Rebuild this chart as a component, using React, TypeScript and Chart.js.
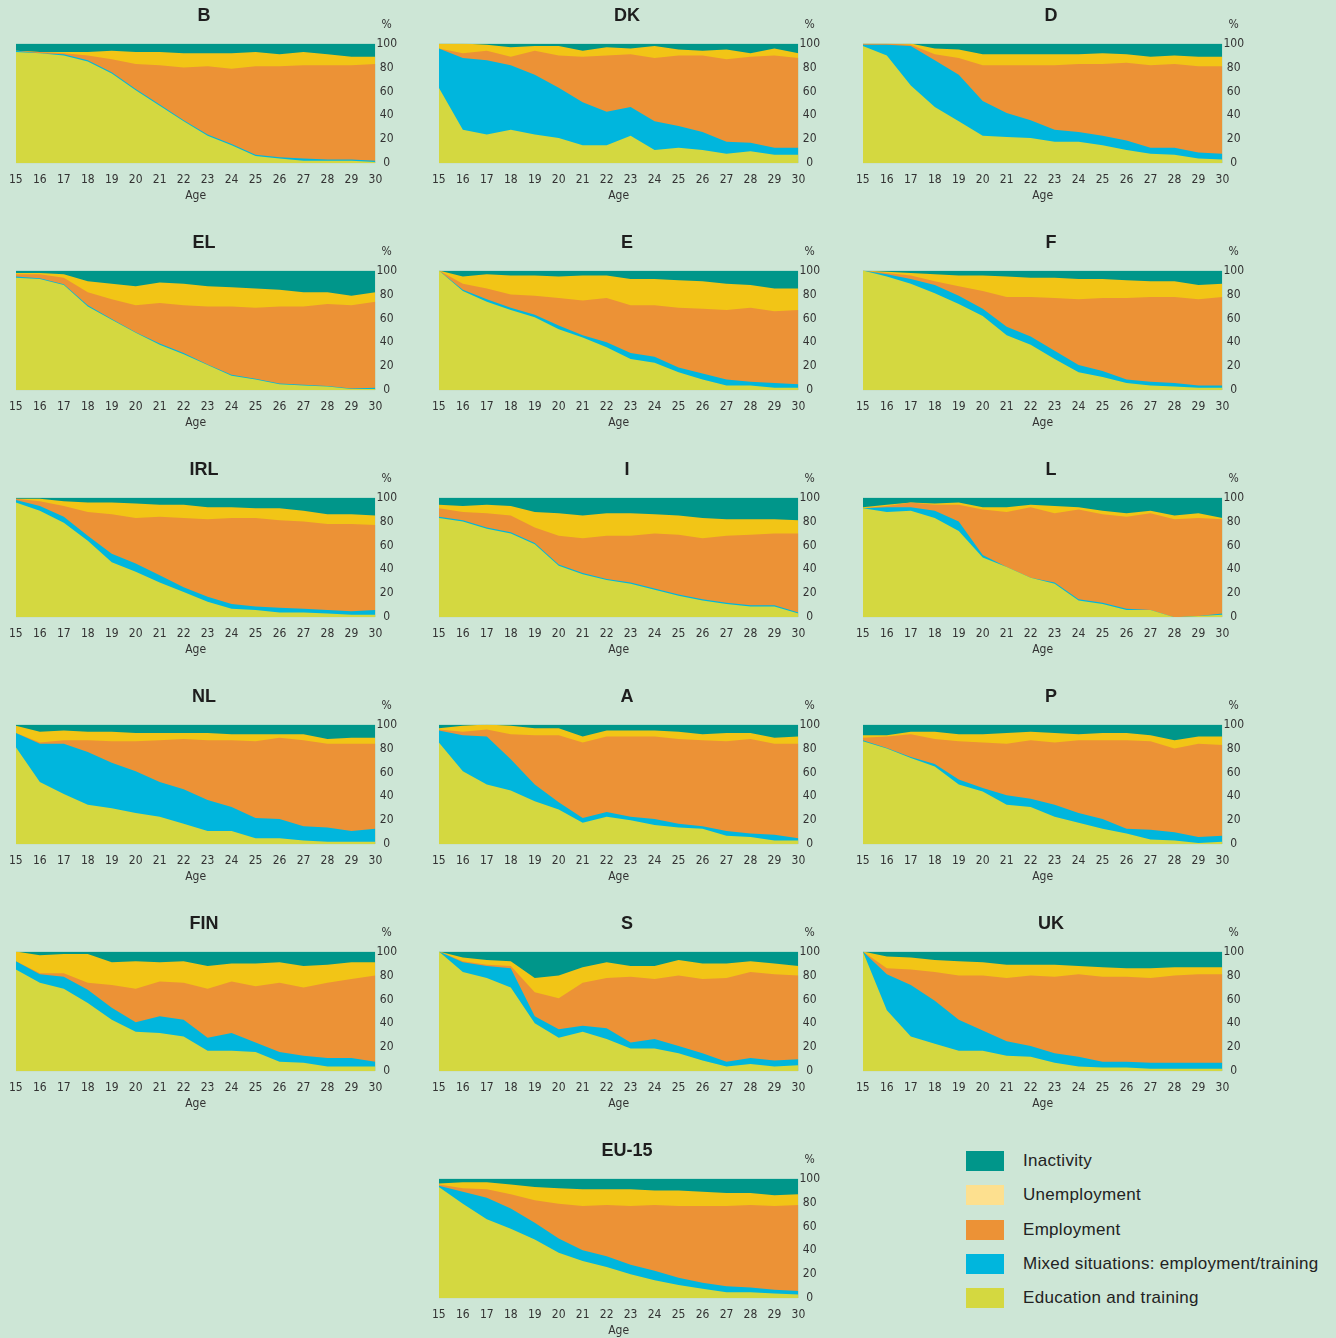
import React, { useEffect, useRef } from "react";
import { Chart, registerables } from "chart.js";
Chart.register(...registerables);

// ---------- data (cumulative boundaries in %, ages 15..30) ----------
const AGES = ["15","16","17","18","19","20","21","22","23","24","25","26","27","28","29","30"];
const TOTAL = [100,100,100,100,100,100,100,100,100,100,100,100,100,100,100,100];

// rows: [top of Education, top of Mixed, top of Employment, top of Unemployment]
const B = [
  [93,92,90,85,75,61,48,35,23,15,6,4,2,2,2,1],
  [94,92,91,86,76,62,49,36,24,16,7,5,4,3,3,2],
  [94,93,92,90,87,83,82,80,81,79,81,81,82,82,82,83],
  [94,93,93,93,94,93,93,92,92,92,93,91,93,91,89,89],
];
const DK = [
  [63,28,24,28,24,21,15,15,23,11,13,11,8,10,7,7],
  [96,88,86,82,74,63,51,43,47,35,31,26,18,17,13,13],
  [96,92,94,89,94,90,89,90,91,88,90,90,87,89,90,88],
  [100,100,99,97,98,98,94,97,96,98,95,94,95,92,96,92],
];
const D = [
  [98,90,65,47,35,23,22,21,18,18,15,11,8,7,4,3],
  [99,99,98,86,74,52,42,36,28,26,23,19,13,13,9,8],
  [100,100,99,91,88,82,82,82,82,83,83,84,82,83,81,81],
  [100,100,100,96,95,91,91,91,91,91,92,91,89,90,89,89],
];
const EL = [
  [94,93,88,70,59,48,38,30,21,12,9,5,4,3,1,1],
  [95,93.5,88.5,71,59.5,48.5,39,31,21.5,13,9.5,5.5,4.5,3.5,1.5,2],
  [97,97,94,82,76,71,73,71,70,70,69,70,70,72,71,74],
  [98,98,97,91,89,87,90,89,87,86,85,84,82,82,79,82],
];
const E = [
  [100,83,74,67,61,51,44,36,26,23,15,9,4,4,2,2],
  [100,84,76,69,63,54,46,40,31,28,19,14,9,7,6,5],
  [100,89,85,80,79,77,75,77,71,71,69,68,67,69,66,67],
  [100,95,97,96,96,95,96,96,93,93,92,91,89,88,85,85],
];
const F = [
  [100,95,89,81,72,62,46,38,26,15,11,6,4,3,2,2],
  [100,97,93,88,79,68,53,45,33,21,16,9,7,6,4,4],
  [100,98,96,91,87,83,78,78,77,76,77,77,78,78,76,78],
  [100,99,98,97,96,96,95,94,94,93,93,92,91,91,88,89],
];
const IRL = [
  [96,89,79,64,46,38,29,21,13,7,6,4,4,3,2,2],
  [98,93,84,68,53,45,35,25,17,11,9,8,7,6,5,6],
  [99,97,93,88,86,83,84,83,82,83,83,81,80,78,78,77],
  [99,99,97,96,96,95,94,94,92,92,91,91,89,86,86,85],
];
const I = [
  [83,80,74,70,61,43,36,31,28,23,18,14,11,9,9,3],
  [84,81,75,71,62,44,37,32,29,24,19,15,12,10,10,4],
  [91,88,87,85,75,68,66,68,68,70,69,66,68,69,70,70],
  [94,93,94,93,88,87,85,87,87,86,85,83,82,82,82,81],
];
const L = [
  [91,88,89,83,72,50,42,33,28,14,11,6,6,0,1,2],
  [91,92,92,89,80,52,42,33,29,15,12,7,6,0,1,3],
  [91,93,96,94,94,90,88,92,87,90,86,84,87,82,83,82],
  [92,94,96,95,96,92,92,94,93,92,89,87,89,85,87,83],
];
const NL = [
  [81,52,42,33,30,26,23,17,11,11,5,5,3,2,2,2],
  [93,84,84,77,68,61,52,46,37,31,22,21,15,14,11,13],
  [93,85,87,87,86,86,87,88,87,87,86,89,87,84,84,84],
  [99,94,95,94,94,93,93,93,93,92,92,92,92,88,89,89],
];
const A = [
  [85,61,50,45,36,29,18,23,20,16,14,13,7,6,3,3],
  [95,91,90,71,50,35,22,27,23,21,17,15,11,9,8,5],
  [96,94,96,92,91,91,85,90,90,90,88,87,86,88,84,84],
  [97,99,100,99,97,97,90,95,95,95,94,92,93,93,89,90],
];
const P = [
  [86,80,72,65,50,44,33,31,23,18,13,9,4,3,1,2],
  [87,80.5,73,67,54,47,41,38,33,26,21,13,12,10,6,7],
  [89,90,92,88,86,85,84,87,85,87,87,87,86,80,84,83],
  [91,91,94,94,92,92,93,94,93,92,93,93,91,87,90,90],
];
const FIN = [
  [85,74,69,57,43,33,32,29,17,17,16,8,7,4,4,4],
  [92,81,79,68,53,41,46,43,28,32,24,16,13,11,11,8],
  [92,82,82,74,72,69,75,74,69,75,71,74,70,74,77,80],
  [100,97,98,98,91,92,91,92,88,90,90,91,88,89,91,91],
];
const S = [
  [100,83,78,70,40,28,33,27,19,19,15,9,4,6,4,5],
  [100,91,88,86,46,35,38,36,24,27,21,15,8,11,9,10],
  [100,92,89,88,66,61,74,78,79,77,80,77,78,83,81,80],
  [100,95,93,92,78,80,87,91,88,88,93,90,90,92,90,88],
];
const UK = [
  [100,51,29,23,17,17,13,12,7,4,3,3,2,2,2,2],
  [100,81,72,59,43,34,25,21,15,12,8,8,7,7,7,7],
  [100,86,85,83,80,80,78,80,79,81,79,79,78,80,81,81],
  [100,96,95,93,92,91,89,89,89,88,87,86,86,87,87,87],
];
const EU15 = [
  [93,79,66,58,49,38,31,26,20,15,11,8,5,5,4,3],
  [94,89,84,75,63,50,40,35,28,23,17,13,10,9,7,6],
  [95,92,91,87,82,79,77,78,77,78,77,77,77,78,77,78],
  [96,97,97,95,93,92,91,91,91,90,90,89,88,88,86,87],
];

const PANELS: [string, number[][], number, number][] = [
  ["B", B, 0, 0], ["DK", DK, 1, 0], ["D", D, 2, 0],
  ["EL", EL, 0, 1], ["E", E, 1, 1], ["F", F, 2, 1],
  ["IRL", IRL, 0, 2], ["I", I, 1, 2], ["L", L, 2, 2],
  ["NL", NL, 0, 3], ["A", A, 1, 3], ["P", P, 2, 3],
  ["FIN", FIN, 0, 4], ["S", S, 1, 4], ["UK", UK, 2, 4],
  ["EU-15", EU15, 1, 5],
];

const LEGEND_LABELS = ["Inactivity", "Unemployment", "Employment", "Mixed situations: employment/training", "Education and training"];

// ---------- styles ----------
const BG = "#cde6d6";
const C_INA = "#00968a";
const C_UNE = "#f2c516";
const C_UNE_LEGEND = "#fde08f";
const C_EMP = "#ec9236";
const C_MIX = "#00b6dd";
const C_EDU = "#d4d840";
const LEGEND_COLORS = [C_INA, C_UNE_LEGEND, C_EMP, C_MIX, C_EDU];

const COL_LEFT = [0, 423, 847];
const ROW_TOP = 227;
const CW = 400;
const CH = 205;
const TICK_FONT = "'Liberation Sans Narrow', 'DejaVu Sans Condensed', 'Liberation Sans', sans-serif";

const percentPlugin = {
  id: "percentLabel",
  afterDraw(chart: any) {
    const y = chart.scales.y;
    const ctx = chart.ctx;
    ctx.save();
    ctx.fillStyle = "#333";
    ctx.font = `12px ${TICK_FONT}`;
    ctx.textAlign = "center";
    ctx.textBaseline = "middle";
    ctx.fillText("%", (y.left + y.right) / 2, chart.chartArea.top - 19);
    ctx.restore();
  },
};

function Panel({ title, series, left, top }: { title: string; series: number[][]; left: number; top: number }) {
  const ref = useRef<HTMLCanvasElement>(null);
  useEffect(() => {
    const base = { borderWidth: 0, pointRadius: 0, tension: 0, fill: "origin" as const };
    const chart = new Chart(ref.current!, {
      type: "line",
      data: {
        labels: AGES,
        datasets: [
          { ...base, label: "Education and training", data: series[0], backgroundColor: C_EDU },
          { ...base, label: "Mixed situations", data: series[1], backgroundColor: C_MIX },
          { ...base, label: "Employment", data: series[2], backgroundColor: C_EMP },
          { ...base, label: "Unemployment", data: series[3], backgroundColor: C_UNE },
          { ...base, label: "Inactivity", data: TOTAL, backgroundColor: C_INA },
        ],
      },
      options: {
        animation: false,
        responsive: false,
        devicePixelRatio: 1,
        layout: { padding: { left: 10, right: 2, top: 0, bottom: 2 } },
        plugins: {
          legend: { display: false },
          tooltip: { enabled: false },
          title: {
            display: true,
            text: title,
            color: "#1e1e1e",
            font: { family: "'Liberation Sans', Arial, sans-serif", size: 18, weight: "bold" },
            padding: { top: 5, bottom: 17 },
          },
        },
        scales: {
          x: {
            type: "category",
            offset: false,
            grid: { display: false, drawTicks: false },
            border: { display: false },
            ticks: { color: "#333", font: { family: TICK_FONT, size: 12 }, padding: 9, maxRotation: 0, autoSkip: false },
            title: { display: true, text: "Age", color: "#333", font: { family: TICK_FONT, size: 12 }, padding: { top: -7, bottom: 0 } },
          },
          y: {
            position: "right",
            min: 0,
            max: 100,
            grid: { display: false, drawTicks: false },
            border: { display: false },
            ticks: { stepSize: 20, color: "#333", font: { family: TICK_FONT, size: 12 }, padding: 1, crossAlign: "center" },
          },
        },
      },
      plugins: [percentPlugin],
    });
    return () => chart.destroy();
  }, []);
  return (
    <canvas
      ref={ref}
      width={CW}
      height={CH}
      style={{ position: "absolute", left, top, width: CW, height: CH }}
    />
  );
}

export default function App() {
  return (
    <div style={{ position: "absolute", left: 0, top: 0, width: 1336, height: 1338, background: BG, overflow: "hidden" }}>
      {PANELS.map(([t, s, c, r]) => (
        <Panel key={t} title={t} series={s} left={COL_LEFT[c]} top={r * ROW_TOP} />
      ))}
      {LEGEND_LABELS.map((lab, i) => (
        <div key={lab} style={{ position: "absolute", left: 966, top: 1151 + i * 34.3, height: 20, display: "flex", alignItems: "center" }}>
          <div style={{ width: 38, height: 20, background: LEGEND_COLORS[i] }} />
          <span style={{ marginLeft: 19, fontFamily: "'Liberation Sans', Arial, sans-serif", fontSize: 17, letterSpacing: 0.3, color: "#222", whiteSpace: "nowrap" }}>{lab}</span>
        </div>
      ))}
    </div>
  );
}
